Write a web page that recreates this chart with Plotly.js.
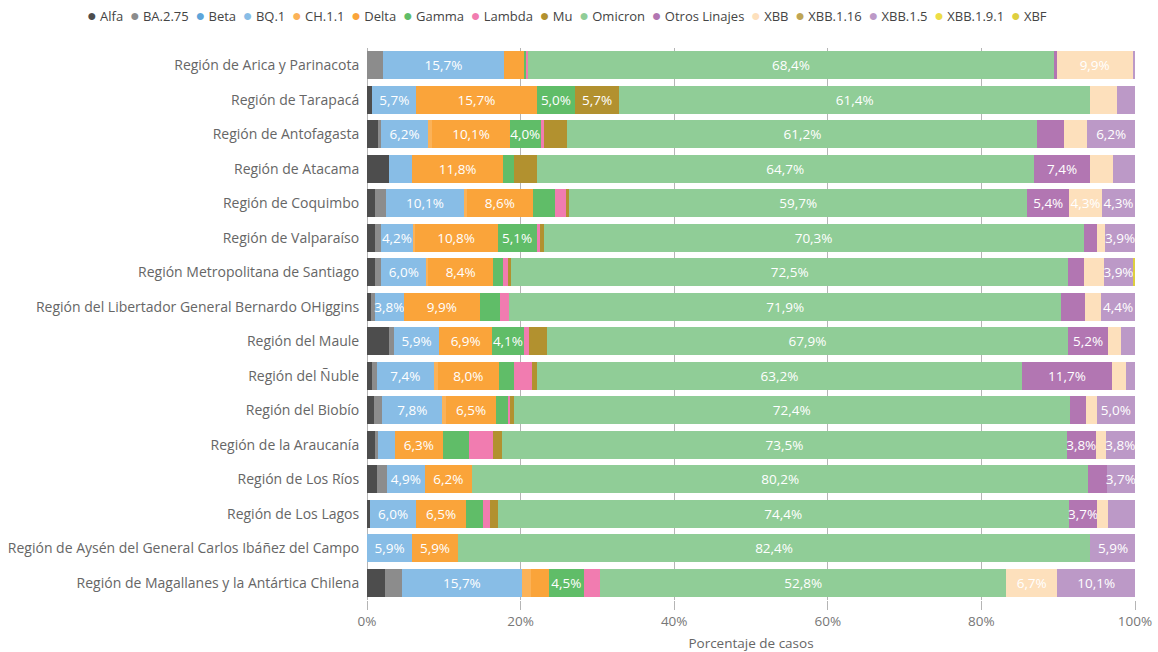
<!DOCTYPE html>
<html>
<head>
<meta charset="utf-8">
<script src="https://cdn.plot.ly/plotly-3.0.1.min.js"></script>
<style>html,body{margin:0;padding:0;background:#fff;}#chart{width:1158px;height:652px;}</style>
</head>
<body>
<div id="chart"></div>
<script>
const regions = [
  "Región de Arica y Parinacota",
  "Región de Tarapacá",
  "Región de Antofagasta",
  "Región de Atacama",
  "Región de Coquimbo",
  "Región de Valparaíso",
  "Región Metropolitana de Santiago",
  "Región del Libertador General Bernardo OHiggins",
  "Región del Maule",
  "Región del Ñuble",
  "Región del Biobío",
  "Región de la Araucanía",
  "Región de Los Ríos",
  "Región de Los Lagos",
  "Región de Aysén del General Carlos Ibáñez del Campo",
  "Región de Magallanes y la Antártica Chilena"
];

const seriesNames = ["Alfa","BA.2.75","Beta","BQ.1","CH.1.1","Delta","Gamma","Lambda","Mu","Omicron","Otros Linajes","XBB","XBB.1.16","XBB.1.5","XBB.1.9.1","XBF"];
const seriesColors = ["#4D4D4D","#8C8C8C","#5DA5DA","#88BDE6","#FBB258","#FAA43A","#60BD68","#F17CB0","#B2912F","#90CD97","#B276B2","#FDE0BC","#BFA554","#BC99C7","#EDDD46","#DECF3F"];

const xTickVals = [0, 20, 40, 60, 80, 100];
const xTickText = ["0%", "20%", "40%", "60%", "80%", "100%"];

// values per series, in region order (percent of cases)
const alfa         = [0,   0.7, 1.4, 2.9, 1.1, 1.0, 1.0, 0.5, 2.8, 0.6, 0.9, 1.1, 1.3, 0.4, 0,   2.3];
const ba275        = [2.1, 0,   0.4, 0,   1.4, 0.8, 0.8, 0.5, 0.7, 0.7, 1.1, 0.3, 1.3, 0,   0,   2.2];
const beta         = [0,   0,   0,   0,   0,   0,   0,   0,   0,   0,   0,   0,   0,   0,   0,   0  ];
const bq1          = [15.7,5.7, 6.2, 3.0, 10.1,4.2, 6.0, 3.8, 5.9, 7.4, 7.8, 2.2, 4.9, 6.0, 5.9, 15.7];
const ch11         = [0,   0,   0.5, 0,   0.4, 0.2, 0.2, 0,   0,   0.5, 0.5, 0,   0,   0,   0,   1.1];
const delta        = [2.6, 15.7,10.1,11.8,8.6, 10.8,8.4, 9.9, 6.9, 8.0, 6.5, 6.3, 6.2, 6.5, 5.9, 2.4];
const gamma        = [0.3, 5.0, 4.0, 1.4, 2.9, 5.1, 1.3, 2.6, 4.1, 2.0, 1.5, 3.4, 0,   2.2, 0,   4.5];
const lambda       = [0.3, 0,   0.4, 0,   1.4, 0.4, 0.7, 1.2, 0.7, 2.3, 0.3, 3.1, 0,   0.9, 0,   2.2];
const mu           = [0,   5.7, 3.1, 3.0, 0.4, 0.5, 0.4, 0,   2.3, 0.6, 0.5, 1.2, 0,   1.0, 0,   0  ];
const omicron      = [68.4,61.4,61.2,64.7,59.7,70.3,72.5,71.9,67.9,63.2,72.4,73.5,80.2,74.4,82.4,52.8];
const otros        = [0.4, 0,   3.5, 7.4, 5.4, 1.8, 2.1, 3.1, 5.2, 11.7,2.1, 3.8, 2.4, 3.7, 0,   0  ];
const xbb          = [9.9, 3.5, 3.0, 2.9, 4.3, 1.0, 2.5, 2.1, 1.7, 1.8, 1.4, 1.3, 0,   1.4, 0,   6.7];
const xbb116       = [0,   0,   0,   0,   0,   0,   0,   0,   0,   0,   0,   0,   0,   0,   0,   0  ];
const xbb15        = [0.3, 2.3, 6.2, 2.9, 4.3, 3.9, 3.9, 4.4, 1.8, 1.2, 5.0, 3.8, 3.7, 3.5, 5.9, 10.1];
const xbb191       = [0,   0,   0,   0,   0,   0,   0,   0,   0,   0,   0,   0,   0,   0,   0,   0  ];
const xbf          = [0,   0,   0,   0,   0,   0,   0.2, 0,   0,   0,   0,   0,   0,   0,   0,   0  ];

const seriesValues = [alfa, ba275, beta, bq1, ch11, delta, gamma, lambda, mu, omicron, otros, xbb, xbb116, xbb15, xbb191, xbf];

const FONT = '"Open Sans", "Noto Sans", sans-serif';
const fmt = v => (v >= 3.65 ? v.toFixed(1).replace('.', ',') + '%' : '');

const traces = seriesNames.map((name, i) => ({
  type: 'bar',
  orientation: 'h',
  name: name,
  y: regions,
  x: seriesValues[i],
  text: seriesValues[i].map(fmt),
  textposition: 'inside',
  insidetextanchor: 'middle',
  textangle: 0,
  textfont: {color: '#ffffff', size: 13.5, family: FONT},
  marker: {color: seriesColors[i], line: {width: 0}},
  showlegend: false,
  hovertemplate: '%{y}<br>' + name + ': %{x:.1f}%<extra></extra>'
}));

// compact one-line legend (built from the series names and colours)
const NB = '\u00A0';
const legendText = seriesNames.map((name, i) =>
  '<span style="color:' + seriesColors[i] + ';font-size:16px">●</span>' + NB + name
).join(NB + NB);

const layout = {
  width: 1158,
  height: 652,
  paper_bgcolor: '#ffffff',
  plot_bgcolor: '#ffffff',
  barmode: 'stack',
  bargap: 0.19,
  separators: ',.',
  font: {family: FONT, size: 13, color: '#666666'},
  margin: {l: 367, r: 23, t: 48, b: 52, pad: 0},
  uniformtext: {mode: 'show', minsize: 13.5},
  showlegend: false,
  annotations: [{
    xref: 'paper', yref: 'paper',
    x: 0.26, xanchor: 'center',
    y: 1.06, yanchor: 'middle',
    showarrow: false,
    text: legendText,
    font: {size: 13, color: '#444444', family: FONT}
  }],
  xaxis: {
    range: [0, 100],
    tickmode: 'array',
    tickvals: xTickVals,
    ticktext: xTickText,
    showgrid: true,
    gridcolor: '#b5b5b5',
    gridwidth: 1,
    zeroline: true,
    zerolinecolor: '#b5b5b5',
    zerolinewidth: 1,
    ticks: 'outside',
    ticklen: 9,
    tickcolor: '#b5b5b5',
    showline: false,
    tickfont: {size: 13.5, color: '#777777'},
    title: {text: 'Porcentaje de casos', font: {size: 13.5, color: '#666666'}, standoff: 9},
    fixedrange: true
  },
  yaxis: {
    autorange: 'reversed',
    type: 'category',
    ticks: 'outside',
    ticklen: 4,
    tickcolor: 'rgba(0,0,0,0)',
    showgrid: false,
    zeroline: false,
    showline: false,
    tickfont: {size: 14, color: '#666666'},
    fixedrange: true
  }
};

Plotly.newPlot('chart', traces, layout, {displayModeBar: false, responsive: false});
</script>
</body>
</html>
